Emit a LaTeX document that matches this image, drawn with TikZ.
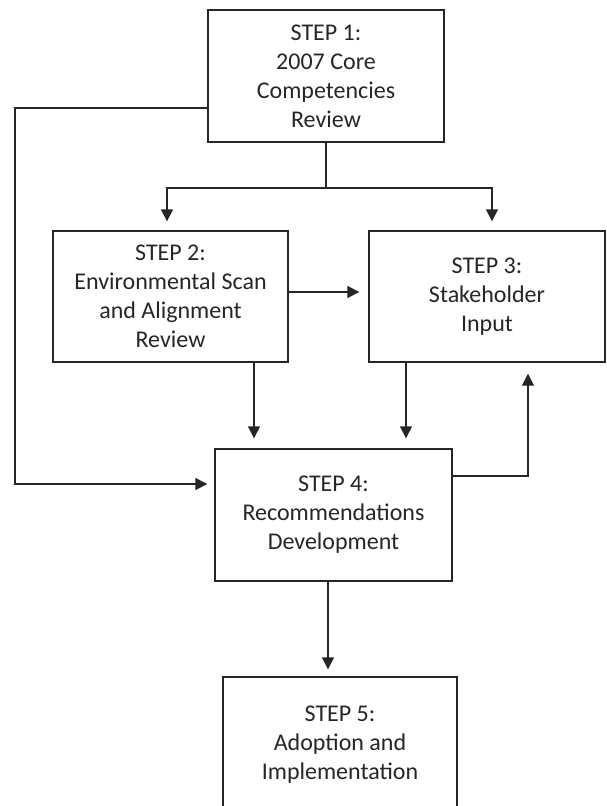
\documentclass[tikz,border=0pt]{standalone}
\usepackage{fontspec}
\setmainfont{Carlito}
\usetikzlibrary{arrows.meta}
\begin{document}
\begin{tikzpicture}[x=1pt,y=-1pt,
  box/.style={draw=black!85, line width=1.4pt, fill=white, align=center, inner sep=0pt,
    text=black!85, font=\fontsize{24}{29}\selectfont},
  conn/.style={draw=black!85, line width=1.4pt},
  arr/.style={conn, -{Triangle[length=12pt,width=12pt]}}]
\useasboundingbox (0,0) rectangle (606,806);
\clip (0,0) rectangle (606,806);
\node[box, minimum width=236pt, minimum height=132pt] (b1) at (326,76)
  {STEP 1:\\2007 Core\\Competencies\\Review};
\node[box, minimum width=235pt, minimum height=131pt] (b2) at (170.5,296.5)
  {STEP 2:\\Environmental Scan\\and Alignment\\Review};
\node[box, minimum width=236pt, minimum height=131pt] (b3) at (487,296.5)
  {STEP 3:\\Stakeholder\\Input};
\node[box, minimum width=237pt, minimum height=132pt] (b4) at (333.5,515)
  {STEP 4:\\Recommendations\\Development};
\node[box, minimum width=234pt, minimum height=136pt] (b5) at (340,745)
  {STEP 5:\\Adoption and\\Implementation};
% helper coordinates
\coordinate (bl) at (167,188);
\coordinate (brr) at (492,188);
\coordinate (lt) at (15,108);
\coordinate (lb) at (15,484);
\coordinate (y292) at (0,292);
\coordinate (x254) at (254,0);
\coordinate (x406) at (406,0);
\coordinate (x328) at (328,0);
\coordinate (rl) at (528,476);
% connectors
\draw[arr, shorten >=9pt] (b1.south) |- (bl) -- (bl |- b2.north);
\draw[arr, shorten >=9pt] (b1.south) |- (brr) -- (brr |- b3.north);
\draw[arr, shorten >=7pt] (b1.west |- lt) -- (lt) -- (lb) -- (b4.west |- lb);
\draw[arr, shorten >=9pt] (b2.east |- y292) -- (b3.west |- y292);
\draw[arr, shorten >=10pt] (b2.south -| x254) -- (b4.north -| x254);
\draw[arr, shorten >=10pt] (b3.south -| x406) -- (b4.north -| x406);
\draw[arr, shorten >=11pt] (b4.east |- rl) -- (rl) -- (rl |- b3.south);
\draw[arr, shorten >=7pt] (b4.south -| x328) -- (b5.north -| x328);
\end{tikzpicture}
\end{document}
